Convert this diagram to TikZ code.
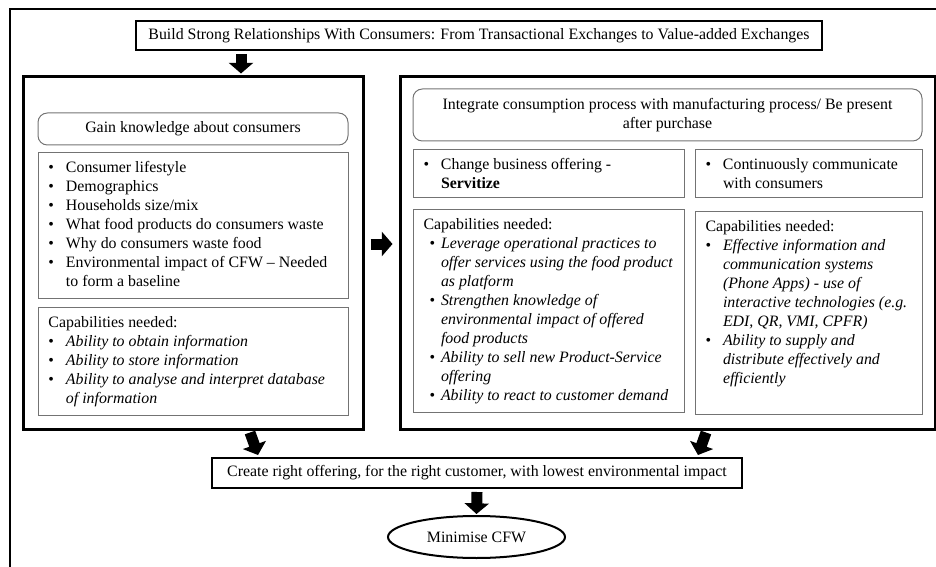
\documentclass[tikz,border=0pt]{standalone}
\usepackage{fontspec}
\setmainfont{Liberation Serif}
\usetikzlibrary{arrows.meta,shapes.geometric,calc}
\newdimen\pxunit
\pxunit=0.75pt
\newdimen\bulletoff
\bulletoff=0pt
\newcommand\bitem[1]{\par\noindent\hangindent=17.5\pxunit\hangafter=1\makebox[17.5\pxunit][l]{\hspace*{\bulletoff}\textbullet}#1}
\newcommand\plainline[1]{\par\noindent #1}
\newcommand\boxcontent[3]{\parbox[b][#2\pxunit][t]{#1\pxunit}{\fontsize{11.9pt}{14.25pt}\selectfont\raggedright\leftskip=10\pxunit\vspace*{8.5\pxunit}#3\par}}
\tikzset{
  bigbox/.style={draw=black, line width=2.25pt, inner sep=0pt},
  greybox/.style={draw=black!55, line width=0.75pt, inner sep=0pt},
  roundbox/.style={greybox, rounded corners=7pt},
  textbox/.style={greybox, anchor=north west, inner sep=0pt},
  headbox/.style={draw=black, line width=1.5pt, inner sep=0pt},
  blockarrow/.style={line width=8.25pt, -{Triangle[length=8pt,width=18pt]}}
}
\begin{document}
\begin{tikzpicture}[x=0.75pt, y=-0.75pt, font=\fontsize{11.9pt}{14.25pt}\selectfont]
\useasboundingbox (0,0) rectangle (936,567);
% outer frame
\draw[line width=1.5pt] (10,567) -- (10,9) -- (936,9);
% title
\node[headbox, minimum width=686\pxunit, minimum height=29\pxunit] (title) at (479,35.5)
  {Build Strong Relationships With Consumers: From Transactional Exchanges to Value-added Exchanges};
% big boxes
\node[bigbox, minimum width=340\pxunit, minimum height=352\pxunit] (leftbox) at (193,253) {};
\node[bigbox, minimum width=535\pxunit, minimum height=352\pxunit] (rightbox) at (667.5,253) {};
% left column
\node[roundbox, minimum width=310\pxunit, minimum height=32\pxunit] (gain) at (193,129) {Gain knowledge about consumers};
\node[textbox] (lbul) at (38,152) {\boxcontent{310}{146}{%
  \bitem{Consumer lifestyle}
  \bitem{Demographics}
  \bitem{Households size/mix}
  \bitem{What food products do consumers waste}
  \bitem{Why do consumers waste food}
  \bitem{Environmental impact of CFW -- Needed\newline to form a baseline}}};
\node[textbox] (lcap) at (38,307) {\boxcontent{310}{108}{%
  \plainline{Capabilities needed:}
  \bitem{\textit{Ability to obtain information}}
  \bitem{\textit{Ability to store information}}
  \bitem{\textit{Ability to analyse and interpret database\newline of information}}}};
% right column
\node[roundbox, minimum width=509\pxunit, minimum height=52\pxunit, align=center] (integ) at (667.5,115)
  {Integrate consumption process with manufacturing process/ Be present\\after purchase};
\node[textbox] (serv) at (413,149) {\boxcontent{271}{48}{%
  \bitem{Change business offering -\newline \textbf{Servitize}}}};
\node[textbox] (comm) at (695,149) {\boxcontent{227}{48}{%
  \bitem{Continuously communicate\newline with consumers}}};
\node[textbox] (rcapa) at (413,209) {\boxcontent{271}{203}{%
  \bulletoff=4.5pt
  \plainline{Capabilities needed:}
  \bitem{\textit{Leverage operational practices to\newline offer services using the food product\newline as platform}}
  \bitem{\textit{Strengthen knowledge of\newline environmental impact of offered\newline food products}}
  \bitem{\textit{Ability to sell new Product-Service\newline offering}}
  \bitem{\textit{Ability to react to customer demand}}}};
\node[textbox] (rcapb) at (695,211) {\boxcontent{227}{203}{%
  \plainline{Capabilities needed:}
  \bitem{\textit{Effective information and\newline communication systems\newline (Phone Apps) - use of\newline interactive technologies (e.g.\newline EDI, QR, VMI, CPFR)}}
  \bitem{\textit{Ability to supply and\newline distribute effectively and\newline efficiently}}}};
% bottom
\node[headbox, minimum width=530\pxunit, minimum height=30\pxunit] (create) at (477,473)
  {Create right offering, for the right customer, with lowest environmental impact};
\node[draw, ellipse, line width=1.5pt, minimum width=177\pxunit, minimum height=42\pxunit, inner sep=0pt] (cfw) at (476.5,537) {Minimise CFW};
% arrows
\draw[blockarrow] ($(title.south)+(-238,3)$) -- ($(leftbox.north)+(48,-2)$);
\draw[blockarrow] ($(leftbox.east)+(6,-9)$) -- ($(rightbox.west)+(-6,-9)$);
\draw[blockarrow] ($(leftbox.south)+(57,2)$) -- ($(create.north west)+(47,-2)$);
\draw[blockarrow] ($(rightbox.south)+(38.5,2)$) -- ($(create.north east)+(-45,-2)$);
\draw[blockarrow] ($(create.south)+(0,3)$) -- ($(cfw.north)+(0,-1)$);
\end{tikzpicture}
\end{document}
